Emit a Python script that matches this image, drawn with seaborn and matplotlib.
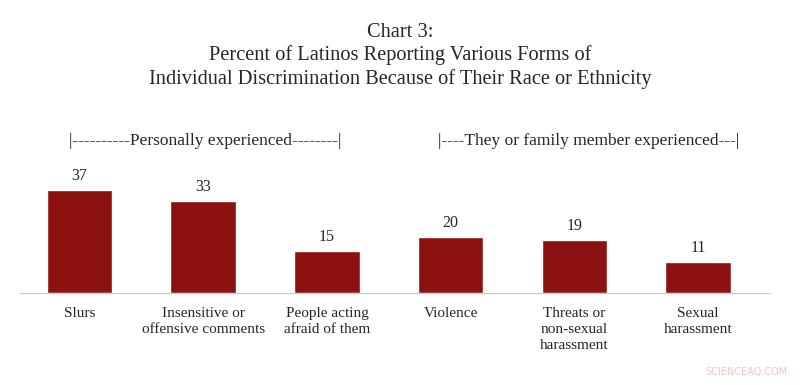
import matplotlib
matplotlib.use("agg")
import matplotlib.pyplot as plt
import seaborn as sns
import pandas as pd

categories = [
    "Slurs",
    "Insensitive or\noffensive comments",
    "People acting\nafraid of them",
    "Violence",
    "Threats or\nnon-sexual\nharassment",
    "Sexual\nharassment",
]
percent = [37, 33, 15, 20, 19, 11]
group_labels = [
    "|----------Personally experienced--------|",
    "|----They or family member experienced---|",
]
title_lines = [
    "Chart 3:",
    "Percent of Latinos Reporting Various Forms of",
    "Individual Discrimination Because of Their Race or Ethnicity",
]

sns.set_style("white")
plt.rcParams["font.family"] = ["Liberation Serif", "DejaVu Serif"]

df = pd.DataFrame({"category": categories, "percent": percent})

fig = plt.figure(figsize=(8, 3.85), dpi=100)
ax = fig.add_axes([0.025, 0.239, 0.9375, 0.371])

sns.barplot(data=df, x="category", y="percent", color="#8c1212",
            saturation=1, width=0.53, ax=ax)

ax.set_xlim(-0.48, 5.58)
ax.set_ylim(0, 51.4)
for i, v in enumerate(percent):
    ax.text(i, v + 2.2, str(v), ha="center", va="bottom", fontsize=11.5)

sns.despine(ax=ax, left=True)
ax.spines["bottom"].set_color("#c8c8c8")
ax.set_yticks([])
ax.set_xlabel("")
ax.set_ylabel("")
ax.tick_params(axis="x", length=0, pad=10, labelsize=11)
for lab in ax.get_xticklabels():
    lab.set_va("top")
    lab.set_linespacing(1.3)

# group headers above the bars
fig.text(0.256, 1 - 145 / 385, group_labels[0], ha="center", va="baseline",
         fontsize=12.5)
fig.text(0.736, 1 - 145 / 385, group_labels[1], ha="center", va="baseline",
         fontsize=12.5)

for y, line in zip([37, 60, 84], title_lines):
    fig.text(0.5, 1 - y / 385, line, ha="center", va="baseline", fontsize=14.7)

fig.text(0.985, 0.02, "SCIENCEAQ.COM", ha="right", va="bottom",
         fontsize=7, color="#f2c4c4", family="DejaVu Sans")

fig.savefig("out.png", dpi=100)
